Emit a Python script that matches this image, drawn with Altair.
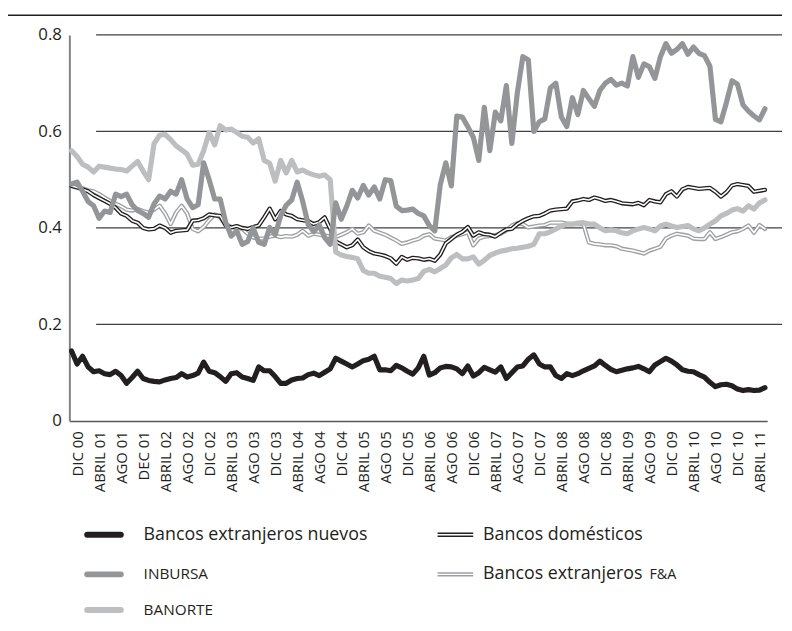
import json
import altair as alt
import pandas as pd

FONT = "Open Sans"

# ---------------- data (monthly, Nov 2000 .. May 2011) ----------------
nuevos = [.145,.118,.134,.112,.102,.104,.098,.096,.103,.094,
          .078,.090,.103,.088,.084,.082,.081,.085,.088,.090,
          .098,.091,.094,.099,.122,.103,.100,.092,.082,.098,
          .100,.091,.088,.084,.112,.104,.104,.092,.078,.078,
          .085,.088,.089,.096,.099,.094,.101,.108,.130,.124,
          .118,.112,.118,.125,.128,.134,.106,.106,.104,.115,
          .110,.103,.097,.110,.134,.095,.100,.110,.113,.112,
          .108,.098,.114,.093,.100,.111,.106,.101,.112,.088,
          .100,.112,.114,.128,.137,.118,.112,.112,.094,.088,
          .098,.094,.098,.104,.109,.114,.124,.115,.107,.102,
          .105,.108,.110,.113,.108,.102,.116,.123,.130,.124,
          .116,.106,.103,.102,.096,.091,.080,.071,.075,.076,
          .073,.066,.063,.065,.063,.064,.069]

inbursa = [.491,.495,.476,.455,.446,.420,.435,.432,.470,.465,
           .470,.448,.436,.430,.422,.450,.466,.460,.476,.470,
           .500,.460,.442,.448,.535,.500,.460,.460,.412,.383,
           .394,.366,.372,.400,.370,.366,.401,.386,.425,.447,
           .458,.495,.455,.407,.392,.406,.380,.366,.452,.418,
           .445,.478,.462,.488,.468,.485,.460,.500,.498,.445,
           .436,.437,.439,.430,.425,.405,.394,.490,.535,.487,
           .632,.630,.610,.588,.540,.650,.560,.640,.622,.695,
           .575,.680,.755,.748,.600,.620,.626,.690,.700,.630,
           .610,.670,.635,.685,.668,.652,.685,.700,.708,.696,
           .700,.694,.755,.712,.740,.734,.710,.755,.782,.762,
           .770,.782,.760,.775,.762,.757,.735,.625,.620,.660,
           .705,.698,.655,.642,.632,.624,.647]

banorte = [.560,.548,.532,.526,.516,.528,.526,.524,.522,.521,
           .518,.528,.538,.518,.500,.575,.592,.594,.583,.570,
           .562,.553,.530,.532,.560,.598,.572,.612,.603,.605,
           .598,.590,.588,.576,.585,.540,.534,.497,.540,.514,
           .540,.516,.520,.514,.510,.507,.510,.500,.350,.344,
           .341,.339,.336,.312,.306,.306,.300,.298,.295,.285,
           .292,.290,.292,.295,.310,.314,.309,.316,.323,.338,
           .345,.336,.336,.340,.325,.333,.343,.348,.352,.354,
           .357,.358,.360,.362,.366,.388,.388,.392,.398,.404,
           .408,.408,.410,.411,.408,.408,.400,.394,.396,.394,
           .390,.388,.394,.398,.401,.398,.394,.404,.408,.404,
           .401,.403,.405,.398,.394,.400,.408,.415,.425,.430,
           .437,.440,.435,.446,.439,.452,.458]

domesticos = [.487,.484,.480,.476,.468,.462,.456,.450,.442,.430,
              .425,.415,.411,.400,.397,.398,.405,.400,.390,.394,
              .395,.396,.415,.416,.420,.428,.426,.425,.405,.401,
              .404,.400,.398,.402,.405,.422,.440,.418,.435,.428,
              .425,.418,.416,.414,.408,.412,.422,.398,.372,.366,
              .360,.364,.376,.360,.352,.347,.345,.342,.337,.326,
              .340,.334,.338,.337,.334,.336,.332,.345,.368,.377,
              .386,.392,.402,.384,.391,.387,.386,.382,.390,.397,
              .398,.408,.415,.420,.424,.425,.430,.436,.438,.439,
              .440,.455,.457,.460,.458,.463,.460,.456,.458,.455,
              .451,.450,.449,.452,.447,.458,.455,.453,.470,.476,
              .465,.480,.485,.483,.481,.482,.483,.475,.465,.474,
              .488,.491,.489,.487,.475,.477,.479]

fa = [.487,.485,.482,.478,.476,.470,.463,.456,.450,.445,
      .438,.436,.439,.435,.432,.438,.446,.430,.408,.432,
      .446,.430,.398,.393,.402,.416,.428,.422,.408,.402,
      .400,.398,.388,.380,.378,.378,.382,.384,.381,.383,
      .382,.386,.394,.384,.388,.386,.384,.383,.381,.386,
      .391,.398,.388,.391,.405,.394,.390,.386,.380,.374,
      .367,.370,.374,.377,.384,.387,.378,.376,.374,.381,
      .384,.387,.391,.364,.378,.382,.383,.385,.388,.395,
      .405,.410,.408,.401,.403,.405,.406,.411,.411,.411,
      .409,.408,.408,.408,.370,.367,.366,.364,.364,.362,
      .357,.355,.353,.350,.347,.353,.357,.361,.378,.384,
      .388,.386,.384,.378,.377,.377,.391,.377,.381,.386,
      .391,.393,.398,.405,.390,.406,.398]

months = list(range(len(nuevos)))

series_names = ["Bancos extranjeros nuevos", "Bancos domésticos", "INBURSA",
                "Bancos extranjeros F&A", "BANORTE"]

tick_labels = ["DIC 00", "ABRIL 01", "AGO 01", "DEC 01", "ABRIL 02", "AGO 02",
               "DIC 02", "ABRIL 03", "AGO 03", "DIC 03", "ABRIL 04", "AGO 04",
               "DIC 04", "ABRIL 05", "AGO 05", "DIC 05", "ABRIL 06", "AGO 06",
               "DIC 06", "ABRIL 07", "AGO 07", "DIC 07", "ABRIL 08", "AGO 08",
               "DIC 08", "ABRIL 09", "AGO 09", "DIC 09", "ABRIL 10", "AGO 10",
               "DIC 10", "ABRIL 11"]
tick_pos = [1 + 4 * i for i in range(len(tick_labels))]

y_ticks = [0, 0.2, 0.4, 0.6, 0.8]
y_tick_labels = ["0", "0.2", "0.4", "0.6", "0.8"]
grid_values = [0.2, 0.4, 0.6, 0.8]

# ---------------- tables ----------------
rows = []
for name, vals in zip(series_names, [nuevos, domesticos, inbursa, fa, banorte]):
    for m, v in zip(months, vals):
        rows.append({"mes": m, "v": v, "serie": name})
df = pd.DataFrame(rows)

BLACK = "#231f20"
GRAY = "#939598"
LIGHT = "#bcbec0"
FAGRAY = "#9d9fa2"

x_enc = alt.X("mes:Q",
              scale=alt.Scale(domain=[-0.4, 126.4], nice=False, zero=False),
              axis=alt.Axis(values=tick_pos,
                            labelExpr=f"{json.dumps(tick_labels)}[round((datum.value - 1) / 4)]",
                            labelAngle=270, ticks=False, grid=False,
                            domainColor="#58595b", domainWidth=1.5,
                            labelFont=FONT, labelFontSize=15, labelColor=BLACK,
                            labelPadding=10, labelOverlap=False, labelFlush=False,
                            title=None))
y_enc = alt.Y("v:Q",
              scale=alt.Scale(domain=[0, 0.8], nice=False, zero=True),
              axis=alt.Axis(values=y_ticks,
                            labelExpr=f"{json.dumps(y_tick_labels)}[round(datum.value / 0.2)]",
                            ticks=False, grid=False,
                            domainColor="#808285", domainWidth=2,
                            labelFont=FONT, labelFontSize=17, labelColor=BLACK,
                            labelPadding=8, labelFlush=False, labelOverlap=False,
                            title=None))

base = alt.Chart(df)


def line(name, color, width):
    return base.transform_filter(alt.datum.serie == name).mark_line(
        color=color, strokeWidth=width, strokeJoin="round", strokeCap="round"
    ).encode(x=x_enc, y=y_enc)


grid = alt.Chart(pd.DataFrame({"v": grid_values})).mark_rule(
    color="#414042", strokeWidth=1.2
).encode(y=y_enc, x=alt.value(27), x2=alt.value(720))

top_rule = alt.Chart(pd.DataFrame({"v": [0]})).mark_rule(
    color=BLACK, strokeWidth=1.5
).encode(x=alt.value(-63), x2=alt.value(720), y=alt.value(-20))

layers = [
    grid,
    line("Bancos extranjeros F&A", FAGRAY, 4.3),
    line("Bancos extranjeros F&A", "white", 1.6),
    line("Bancos domésticos", BLACK, 4.3),
    line("Bancos domésticos", "white", 1.6),
    line("BANORTE", LIGHT, 5.2),
    line("INBURSA", GRAY, 5.2),
    line("Bancos extranjeros nuevos", BLACK, 5.2),
    top_rule,
]

# ---------------- legend ----------------
def leg_symbol(name, color, x1, x2, y, width, cap="round", inner=False):
    ch = alt.Chart(pd.DataFrame({"serie": [name]}))
    out = [ch.mark_rule(color=color, strokeWidth=width, strokeCap=cap).encode(
        x=alt.value(x1), x2=alt.value(x2), y=alt.value(y))]
    if inner:
        out.append(ch.mark_rule(color="white", strokeWidth=1.5, strokeCap="butt").encode(
            x=alt.value(x1 - 1), x2=alt.value(x2 + 1), y=alt.value(y)))
    return out


def leg_text(text, x, y, size):
    return alt.Chart(pd.DataFrame({"t": [text]})).mark_text(
        align="left", baseline="middle", font=FONT, fontSize=size, color=BLACK
    ).encode(x=alt.value(x), y=alt.value(y), text="t:N")


R1, R2, R3 = 505, 545, 581
layers += leg_symbol(series_names[0], BLACK, 18, 52, R1, 6)
layers += leg_symbol(series_names[2], GRAY, 18, 52, R2, 6)
layers += leg_symbol(series_names[4], LIGHT, 18, 52, R3, 6)
layers += leg_symbol(series_names[1], BLACK, 372, 408, R1, 4.5, cap="butt", inner=True)
layers += leg_symbol(series_names[3], FAGRAY, 372, 408, R2, 4.5, cap="butt", inner=True)
layers += [
    leg_text("Bancos extranjeros nuevos", 75, R1, 18),
    leg_text("INBURSA", 75, R2, 15.5),
    leg_text("BANORTE", 75, R3, 15.5),
    leg_text("Bancos domésticos", 418, R1, 18),
    leg_text("Bancos extranjeros", 418, R2, 18),
    leg_text("F&A", 586, R2 + 1, 14.5),
]

chart = alt.layer(*layers).properties(
    width=705, height=390,
    autosize=alt.AutoSizeParams(type="none"),
    padding={"left": 62, "top": 24, "right": 17, "bottom": 209},
    background="white",
).configure_view(stroke=None)

chart.save("out.html", embed_options={"renderer": "svg", "actions": False})
